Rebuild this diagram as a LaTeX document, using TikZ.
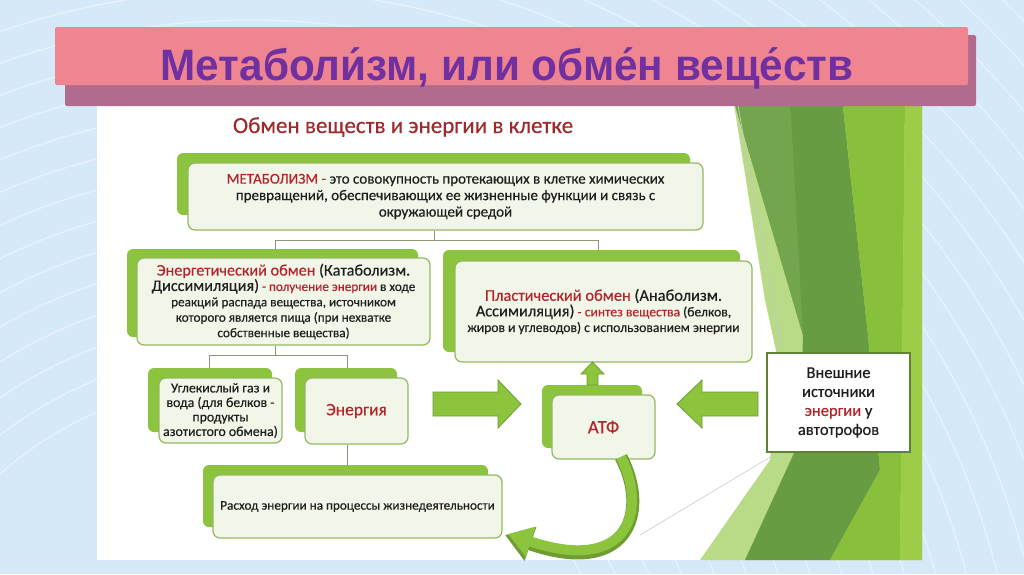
\documentclass[tikz,border=0pt]{standalone}
\usepackage{fontspec}
\setmainfont{Carlito}[FakeBold=0.35]
\newfontfamily\titlefont[FakeStretch=0.96]{Liberation Sans}
\usetikzlibrary{arrows.meta,calc,fit}
\definecolor{bgblue}{HTML}{D6E9F8}
\definecolor{pinkbar}{HTML}{EF8591}
\definecolor{pinkshadow}{HTML}{B16B8F}
\definecolor{titlepurple}{HTML}{7030A0}
\definecolor{gback}{HTML}{8DC43F}
\definecolor{fborder}{HTML}{94B862}
\definecolor{ffill}{HTML}{F2F6E9}
\definecolor{txt}{HTML}{1E1E1E}
\definecolor{redt}{HTML}{B5232A}
\definecolor{subred}{HTML}{9E2A2B}
\definecolor{lineg}{HTML}{8A9878}
\definecolor{agreen}{HTML}{8CC43E}
\definecolor{adark}{HTML}{6E9E32}
\definecolor{extborder}{HTML}{5E8236}
\definecolor{gdark}{HTML}{689C43}
\definecolor{gbright}{HTML}{88BF3B}
\definecolor{gyellow}{HTML}{9DCC48}
\definecolor{glight}{HTML}{B9DA86}
\definecolor{gmid}{HTML}{72A54E}
\newcommand\redtx[1]{\textcolor{redt}{#1}}
\begin{document}
\begin{tikzpicture}[x=1pt,y=-1pt,
  gbk/.style={fill=gback, draw=none, rounded corners=6, inner sep=0pt},
  fr/.style={draw=fborder, line width=1.2, fill=ffill, rounded corners=7, inner sep=0pt, align=center, text=txt},
  tl/.style={draw=lineg, line width=0.9},
  barrow/.style={fill=agreen, draw=adark, line width=0.8, line join=miter}]
% background
\fill[bgblue] (0,0) rectangle (1024,574);
\useasboundingbox (0,0) rectangle (1024,574);
\begin{scope}
\clip (0,0) rectangle (1024,574);
\foreach \r in {380,410,...,1300} \draw[white, opacity=0.45, line width=1.2] (250,760) circle[radius=\r];
\end{scope}
% panel
\fill[white] (97,98) rectangle (922,560);
% green decoration
\fill[glight] (733,98) -- (922,98) -- (922,560) -- (700,560) -- (770,460) -- (778,360) -- (765,300) -- cycle;
\fill[gdark] (733,98) -- (842,98) -- (868,335) -- (880,470) -- (830,560) -- (745,560) -- (800,440) -- (803,335) -- cycle;
\fill[gmid] (733,98) -- (790,98) -- (803,335) -- cycle;
\fill[gbright] (842,98) -- (905,98) -- (900,560) -- (830,560) -- (880,470) -- (868,335) -- cycle;
\fill[gyellow] (905,98) -- (922,98) -- (922,560) -- (900,560) -- cycle;
\draw[gray!45, line width=0.7] (737,100) -- (782,350);
\draw[gray!35, line width=0.7] (640,535) -- (772,456);
% title bar
\fill[pinkshadow, rounded corners=2] (65,35) rectangle (976,106);
\fill[pinkbar, rounded corners=2] (55,27) rectangle (968,85);
\node[anchor=base, text=titlepurple, font=\titlefont\bfseries\fontsize{44}{46}\selectfont] (title) at (507,80) {Метаболи^^^^0301зм, или обме^^^^0301н веще^^^^0301ств};
% subtitle
\node[anchor=base, text=subred, font=\fontsize{23}{26}\selectfont] (sub) at (403,133) {Обмен веществ и энергии в клетке};
% metabolism box
\node[gbk, fit={(177,153) (690,215)}] (metabb) {};
\node[fr, minimum width=515, minimum height=67, font=\fontsize{15}{16.5}\selectfont] (metab) at (445.5,196.5)
 {\redtx{МЕТАБОЛИЗМ -} это совокупность протекающих в клетке химических\\превращений, обеспечивающих ее жизненные функции и связь с\\окружающей средой};
% energy exchange box
\node[gbk, fit={(127,249) (418,337)}] (enb) {};
\node[fr, minimum width=293, minimum height=87, font=\fontsize{13.2}{15.4}\selectfont] (en) at (283.5,301.5)
 {{\fontsize{16.2}{17.5}\selectfont\redtx{Энергетический обмен} (Катаболизм.}\\
  {\fontsize{16.2}{16.5}\selectfont Диссимиляция)} \redtx{- получение энергии} в ходе\\
  реакций распада вещества, источником\\
  которого является пища (при нехватке\\
  собственные вещества)};
% plastic exchange box
\node[gbk, fit={(443,250) (740,352)}] (plb) {};
\node[fr, minimum width=297, minimum height=101, font=\fontsize{13.6}{15.6}\selectfont] (pl) at (603.5,311.5)
 {{\fontsize{16.4}{17}\selectfont\redtx{Пластический обмен} (Анаболизм.}\\
  {\fontsize{16.4}{16}\selectfont Ассимиляция)} \redtx{- синтез вещества} (белков,\\
  жиров и углеводов) с использованием энергии};
% tree lines top
\coordinate (j1) at (434,240);
\coordinate (jl) at (275,240);
\coordinate (jr) at (598,240);
\draw[tl] (metab.south -| j1) -- (j1);
\draw[tl] (jl) -- (jr);
\draw[tl] (jl) -- (jl |- enb.north);
\draw[tl] (jr) -- (jr |- plb.north);
% small boxes
\node[gbk, fit={(148,368) (272,432)}] (co2b) {};
\node[fr, minimum width=123, minimum height=65, font=\fontsize{13.8}{14.5}\selectfont] (co2) at (220.5,410.5)
 {Углекислый газ и\\вода (для белков -\\продукты\\азотистого обмена)};
\node[gbk, fit={(295,368) (397,432)}] (enrb) {};
\node[fr, minimum width=103, minimum height=66, font=\fontsize{17.5}{20}\selectfont] (enr) at (356.5,411) {\redtx{Энергия}};
\coordinate (j2) at (275,355);
\coordinate (j2l) at (209,355);
\coordinate (j2r) at (347,355);
\draw[tl] (en.south -| j2) -- (j2);
\draw[tl] (j2l) -- (j2r);
\draw[tl] (j2l) -- (j2l |- co2b.north);
\draw[tl] (j2r) -- (j2r |- enrb.north);
% ATP box
\node[gbk, fit={(542,385) (642,448)}] (atfb) {};
\node[fr, minimum width=103, minimum height=64, font=\fontsize{19}{20}\selectfont] (atf) at (603.5,427) {\redtx{АТФ}};
% expenditure box
\node[gbk, fit={(203,465) (488,527)}] (rasb) {};
\node[fr, minimum width=289, minimum height=63, font=\fontsize{13.2}{15}\selectfont] (ras) at (357.5,506.5) {Расход энергии на процессы жизнедеятельности};
\coordinate (j4) at (347,465);
\draw[tl] (enr.south -| j4) -- (j4);
% external box
\node[draw=extborder, line width=1.3, fill=white, minimum width=143, minimum height=99, align=center, text=txt, font=\fontsize{16.5}{19}\selectfont] (ext) at (838.5,402.5)
 {Внешние\\источники\\\redtx{энергии} у\\автотрофов};
% block arrows
\draw[barrow] (433,392) -- (498,392) -- (498,380) -- (521,404) -- (498,428) -- (498,416) -- (433,416) -- cycle;
\draw[barrow] (758,392) -- (702,392) -- (702,380) -- (677,404) -- (702,428) -- (702,416) -- (758,416) -- cycle;
\draw[barrow] (587,385) -- (587,374) -- (581,374) -- (592.5,362) -- (604,374) -- (598,374) -- (598,385) -- cycle;
% curved arrow
\draw[draw=adark, line width=13, -{Triangle[length=27pt,width=34pt]}] (621,457) .. controls (650,512) and (628,578) .. (505,535);
\draw[draw=agreen, line width=10, -{Triangle[length=24pt,width=30pt]}] (621,457) .. controls (648,512) and (628,574) .. (508,534);
\end{tikzpicture}
\end{document}
